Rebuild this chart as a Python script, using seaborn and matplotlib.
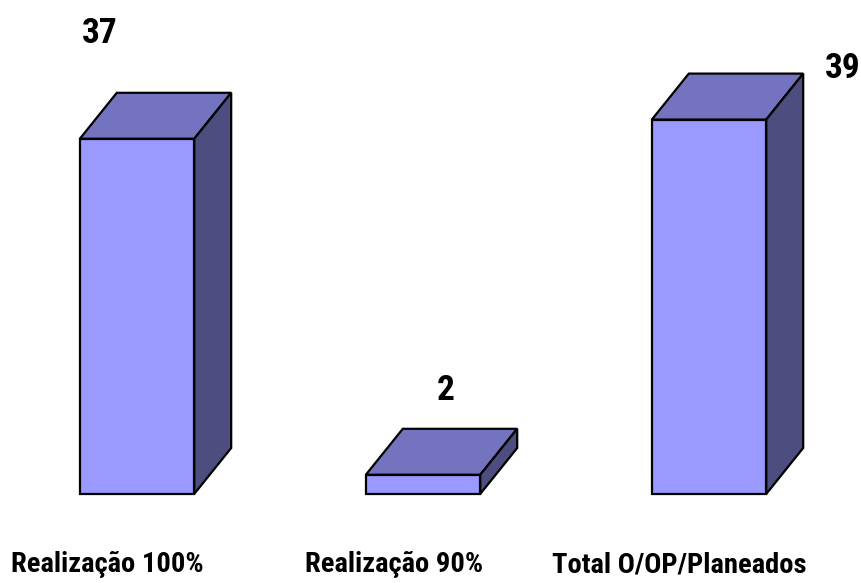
import matplotlib
matplotlib.use("Agg")
import matplotlib.pyplot as plt
from matplotlib.patches import Polygon
import pandas as pd
import seaborn as sns

categories = ["Realização 100%", "Realização 90%", "Total O/OP/Planeados"]
values = [37, 2, 39]

FRONT = "#9999ff"
TOP = "#7373bf"
SIDE = "#4d4d80"
FONT = ["Roboto Condensed", "Asap Condensed", "Archivo Narrow", "Liberation Sans", "DejaVu Sans"]

W, H = 862, 583
sns.set_theme(style="white")
plt.rcParams["font.family"] = FONT

fig = plt.figure(figsize=(W / 100, H / 100), dpi=100)
ax = fig.add_axes([0, 0, 1, 1])

df = pd.DataFrame({"categoria": categories, "valor": values})
sns.barplot(data=df, x="categoria", y="valor", color=FRONT, saturation=1,
            width=0.4, edgecolor="black", linewidth=1.6, ax=ax, zorder=3)

# scales: category spacing 286 px centred at 137 px; 9.6 px per unit above the baseline at 494 px
px_x = 286.0
px_y = 9.6
ax.set_xlim(-137 / px_x, (W - 137) / px_x)
ax.set_ylim(-(H - 494) / px_y, 494 / px_y)
ax.axis("off")

# oblique depth of the 3D boxes
dx = 37 / px_x
dy = 46 / px_y

for bar, val in zip(ax.patches, values):
    x0 = bar.get_x()
    x1 = x0 + bar.get_width()
    top = [(x0, val), (x1, val), (x1 + dx, val + dy), (x0 + dx, val + dy)]
    side = [(x1, 0), (x1 + dx, dy), (x1 + dx, val + dy), (x1, val)]
    ax.add_patch(Polygon(top, closed=True, facecolor=TOP, edgecolor="black", linewidth=1.6, zorder=2))
    ax.add_patch(Polygon(side, closed=True, facecolor=SIDE, edgecolor="black", linewidth=1.6, zorder=2))

# value labels
label_pos = [(100, 34), (446, 391), (843, 69)]
for (px, py), val in zip(label_pos, values):
    ax.text((px - 137) / px_x, (494 - py) / px_y, str(val), ha="center", va="center",
            fontsize=25.5, fontweight="bold", color="black", zorder=5)

# category labels below the bars
name_pos = [107, 394, 679]
for px, name in zip(name_pos, categories):
    ax.text((px - 137) / px_x, (494 - 565) / px_y, name, ha="center", va="center",
            fontsize=20.5, fontweight="bold", color="black", zorder=5)

fig.savefig("out.png", dpi=100, facecolor="white")
